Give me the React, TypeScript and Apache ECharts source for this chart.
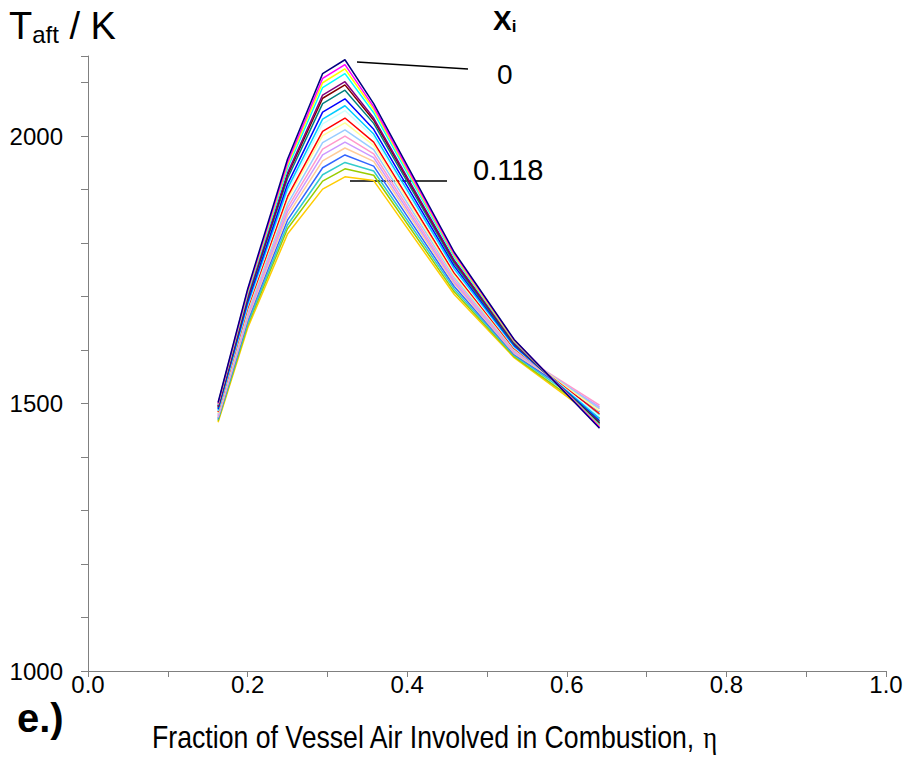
import React, { useEffect, useRef } from "react";
import * as echarts from "echarts";

// Fraction of vessel air involved in combustion (x values)
const eta = [0.163, 0.2, 0.25, 0.294, 0.322, 0.358, 0.459, 0.534, 0.641];

// Xi value of each curve
const xiValues = [0, 0.006, 0.012, 0.019, 0.025, 0.031, 0.037, 0.043, 0.05, 0.056, 0.062, 0.068, 0.075, 0.081, 0.087, 0.093, 0.099, 0.106, 0.112, 0.118];

// Adiabatic flame temperature T_aft / K for each curve
const t00 = [1502, 1714, 1957, 2117, 2143, 2061, 1783, 1620, 1454];
const t01 = [1500, 1711, 1951, 2108, 2134, 2055, 1780, 1619, 1456];
const t02 = [1499, 1708, 1946, 2100, 2126, 2050, 1777, 1617, 1458];
const t03 = [1498, 1705, 1940, 2091, 2117, 2044, 1774, 1616, 1460];
const t04 = [1495, 1700, 1931, 2077, 2102, 2034, 1768, 1614, 1461];
const t05 = [1494, 1698, 1927, 2071, 2096, 2030, 1766, 1613, 1463];
const t06 = [1492, 1695, 1921, 2061, 2086, 2024, 1762, 1611, 1465];
const t07 = [1490, 1690, 1910, 2045, 2070, 2013, 1757, 1609, 1468];
const t08 = [1487, 1685, 1902, 2032, 2057, 2004, 1752, 1607, 1472];
const t09 = [1486, 1682, 1896, 2023, 2048, 1998, 1749, 1605, 1476];
const t10 = [1484, 1678, 1887, 2009, 2034, 1989, 1744, 1603, 1481];
const t11 = [1482, 1675, 1882, 2001, 2025, 1983, 1740, 1602, 1486];
const t12 = [1480, 1670, 1873, 1988, 2012, 1975, 1736, 1600, 1491];
const t13 = [1478, 1666, 1866, 1976, 2000, 1967, 1731, 1598, 1497];
const t14 = [1476, 1663, 1859, 1965, 1989, 1960, 1727, 1596, 1494];
const t15 = [1474, 1659, 1852, 1954, 1978, 1953, 1724, 1594, 1490];
const t16 = [1472, 1655, 1843, 1941, 1965, 1944, 1719, 1592, 1485];
const t17 = [1470, 1650, 1834, 1928, 1951, 1935, 1714, 1590, 1479];
const t18 = [1468, 1646, 1827, 1916, 1939, 1927, 1709, 1588, 1473];
const t19 = [1465, 1641, 1817, 1901, 1924, 1917, 1704, 1586, 1468];

const temps = [t00, t01, t02, t03, t04, t05, t06, t07, t08, t09, t10, t11, t12, t13, t14, t15, t16, t17, t18, t19];

const colors = [
  "#000080", "#FF00FF", "#FFFF00", "#00FFFF", "#800080", "#800000", "#008080", "#0000FF", "#00CCFF", "#CCFFFF",
  "#FF0000", "#FFFF99", "#99CCFF", "#FF99CC", "#CC99FF", "#FFCC99", "#3366FF", "#33CCCC", "#99CC00", "#FFCC00",
];

const yLabelValues = [1000, 1500, 2000];

const FONT = "Liberation Sans, Arial, sans-serif";
const SERIF = "Liberation Serif, Times New Roman, serif";

export default function App() {
  const ref = useRef<HTMLDivElement>(null);

  useEffect(() => {
    document.body.style.margin = "0";
    if (!ref.current) return;
    const chart = echarts.init(ref.current, undefined, { renderer: "svg" });

    const series = temps
      .map((vals, i) => ({
        name: String(xiValues[i]),
        type: "line" as const,
        data: vals.map((v, j) => [eta[j], v]),
        symbol: "none",
        lineStyle: { color: colors[i], width: 1.5 },
        itemStyle: { color: colors[i] },
        z: 2,
      }))
      .reverse();

    chart.setOption({
      animation: false,
      backgroundColor: "#ffffff",
      grid: { left: 88, right: 21, top: 56, bottom: 102, containLabel: false },
      xAxis: {
        type: "value",
        min: 0,
        max: 1,
        interval: 0.1,
        axisLine: { show: true, lineStyle: { color: "#808080", width: 1 } },
        axisTick: { show: true, inside: false, length: 6, lineStyle: { color: "#808080" } },
        splitLine: { show: false },
        axisLabel: {
          color: "#000",
          fontFamily: FONT,
          fontSize: 24,
          margin: 1,
          formatter: (v: number) => (Math.round(v * 10) % 2 === 0 ? v.toFixed(1) : ""),
        },
      },
      yAxis: {
        type: "value",
        min: 1000,
        max: 2150,
        interval: 100,
        axisLine: { show: true, lineStyle: { color: "#808080", width: 1 } },
        axisTick: { show: true, inside: false, length: 7, lineStyle: { color: "#808080" } },
        splitLine: { show: false },
        axisLabel: {
          color: "#000",
          fontFamily: FONT,
          fontSize: 24,
          margin: 25,
          formatter: (v: number) => (yLabelValues.includes(Math.round(v)) ? String(Math.round(v)) : ""),
        },
      },
      series,
      graphic: [
        {
          type: "text",
          x: 9,
          y: 5,
          style: {
            text: "{t|T}{s|aft}{t| / K}",
            rich: {
              t: { fontSize: 38, fontFamily: FONT, fill: "#000" },
              s: { fontSize: 24, fontFamily: FONT, fill: "#000", padding: [17, 0, 0, 0] },
            },
          },
        },
        {
          type: "text",
          x: 493,
          y: 6,
          style: {
            text: "{x|X}{s|i}",
            rich: {
              x: { fontSize: 28, fontWeight: "bold", fontFamily: FONT, fill: "#000" },
              s: { fontSize: 17, fontWeight: "bold", fontFamily: FONT, fill: "#000", padding: [12, 0, 0, 0] },
            },
          },
        },
        {
          type: "line",
          shape: { x1: 357, y1: 62, x2: 468, y2: 69 },
          style: { stroke: "#000", lineWidth: 1.5 },
        },
        {
          type: "text",
          x: 497,
          y: 60,
          style: { text: "0", fontSize: 28, fontFamily: FONT, fill: "#000" },
        },
        {
          type: "line",
          shape: { x1: 350, y1: 181, x2: 447, y2: 181 },
          style: { stroke: "#000", lineWidth: 1.5 },
        },
        {
          type: "text",
          x: 473,
          y: 155,
          style: { text: "0.118", fontSize: 29, fontFamily: FONT, fill: "#000" },
        },
        {
          type: "text",
          x: 17,
          y: 698,
          style: { text: "e.)", fontSize: 40, fontWeight: "bold", fontFamily: FONT, fill: "#000" },
        },
        {
          type: "text",
          x: 152,
          y: 722,
          scaleX: 0.86,
          style: {
            text: "{a|Fraction of Vessel Air Involved in Combustion, }{g|η}",
            rich: {
              a: { fontSize: 31, fontFamily: FONT, fill: "#000" },
              g: { fontSize: 31, fontFamily: SERIF, fill: "#000" },
            },
          },
        },
      ],
    });

    return () => {
      chart.dispose();
    };
  }, []);

  return <div ref={ref} style={{ width: 907, height: 773 }} />;
}
